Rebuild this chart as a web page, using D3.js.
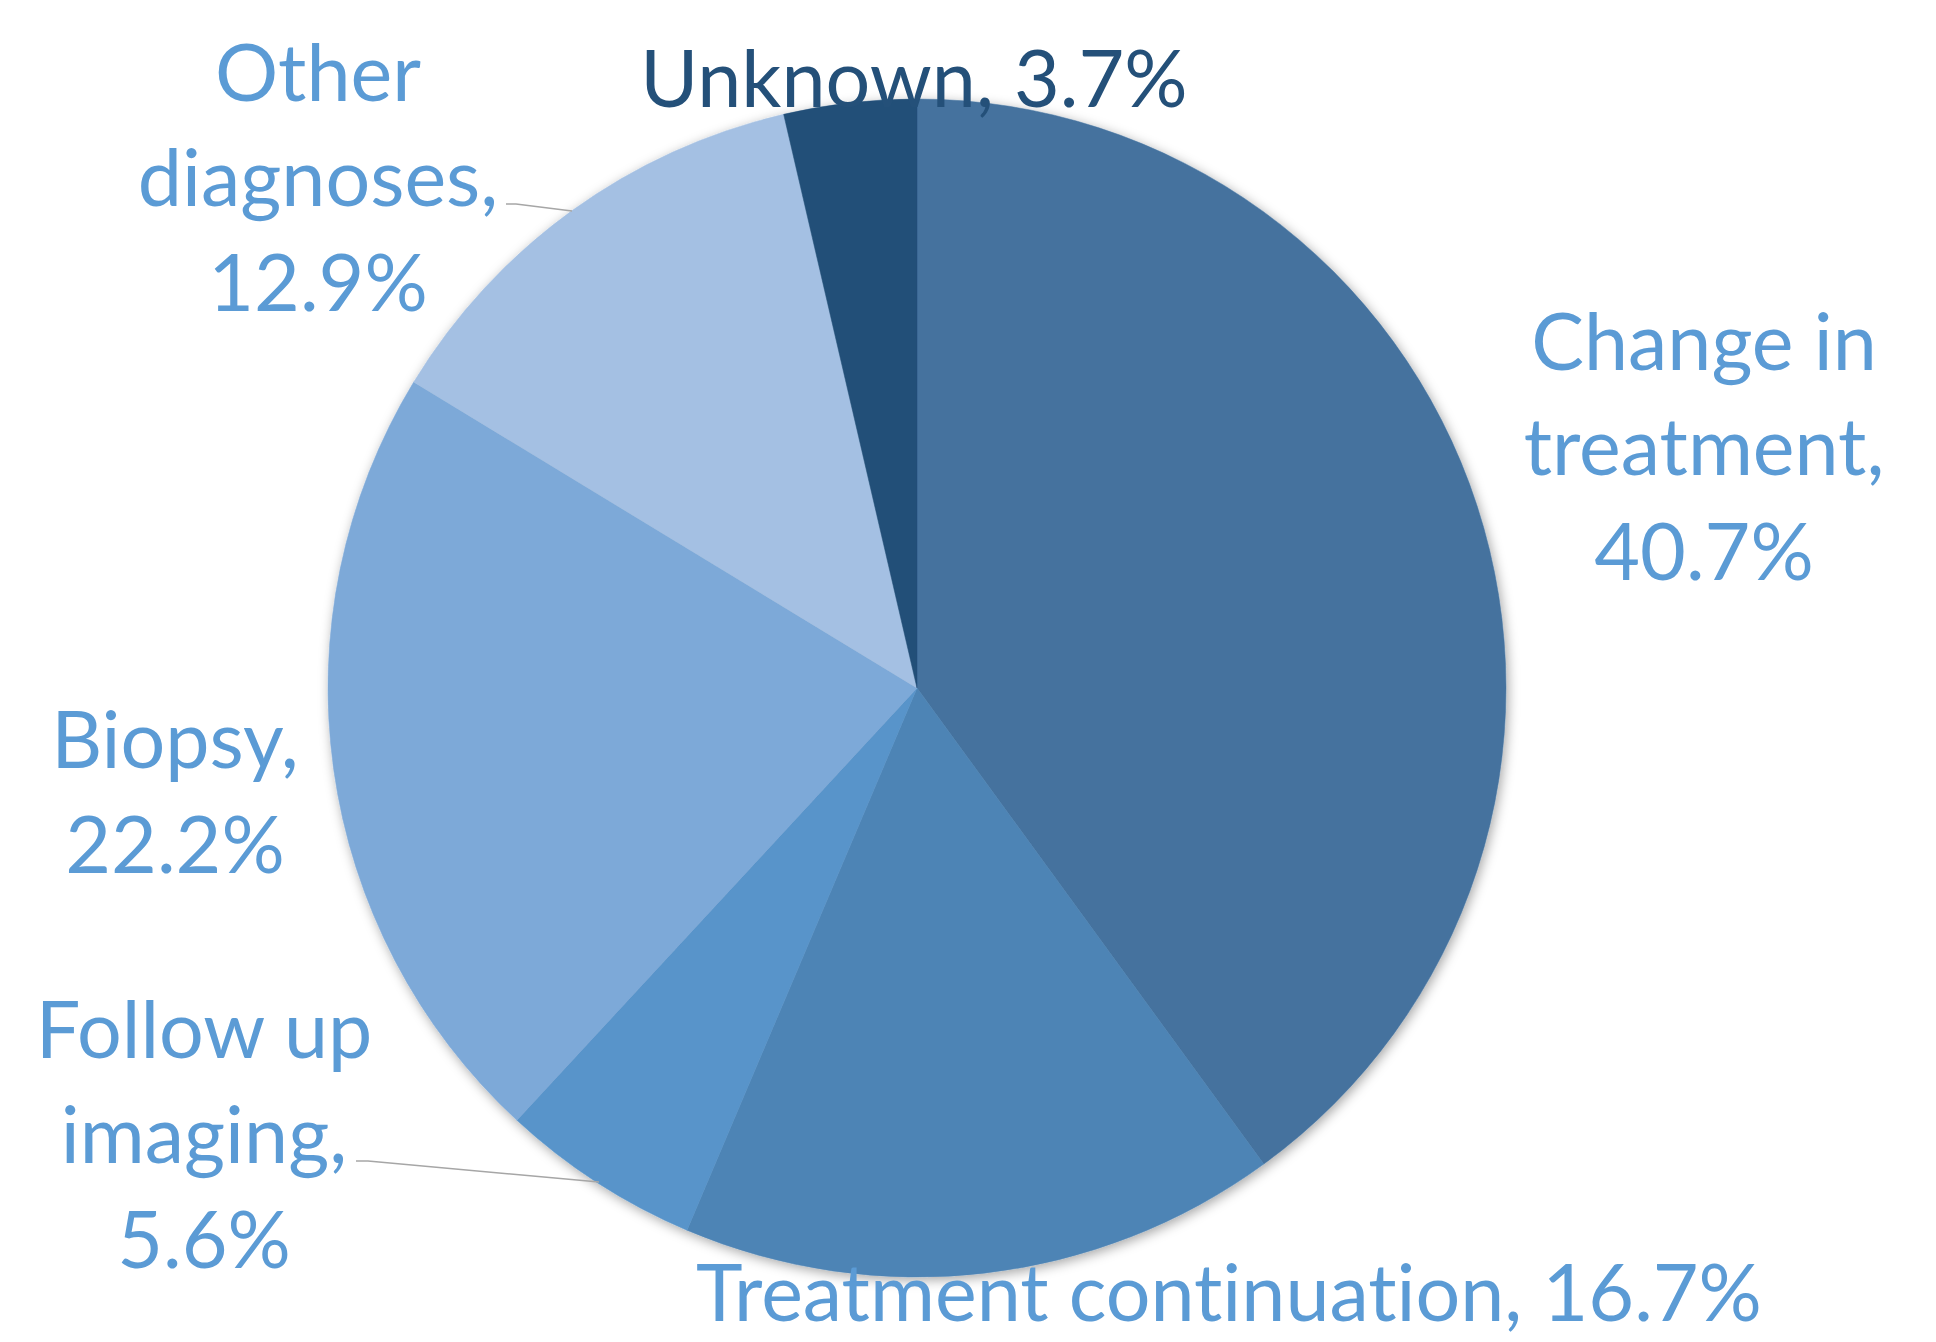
<!DOCTYPE html>
<html>
<head>
<meta charset="utf-8">
<script src="https://cdn.jsdelivr.net/npm/d3@7"></script>
<style>
  html, body { margin: 0; padding: 0; background: #ffffff; }
  svg { display: block; }
  text { font-variant-ligatures: none; font-feature-settings: "liga" 0, "dlig" 0; }
</style>
</head>
<body>
<svg id="chart" width="1936" height="1342"></svg>
<script>
// ---- data ----
const categories = ["Change in treatment", "Treatment continuation", "Follow up imaging", "Biopsy", "Other diagnoses", "Unknown"];
const values = [40.7, 16.7, 5.6, 22.2, 12.9, 3.7];
const labelLines = [
  ["Change in", "treatment,", "40.7%"],
  ["Treatment continuation, 16.7%"],
  ["Follow up", "imaging,", "5.6%"],
  ["Biopsy,", "22.2%"],
  ["Other", "diagnoses,", "12.9%"],
  ["Unknown, 3.7%"]
];
const sliceColors = ["#44729E", "#4E84B5", "#5894CA", "#7DA9D8", "#A4C0E3", "#214F78"];

// ---- layout ----
const W = 1936, H = 1342;
const cx = 917, cy = 688, R = 589;
const fontSize = 79;
const lineGap = 105;
const labelColor = "#5B9BD5";
const unknownLabelColor = "#245079";
// label anchor (center x, first baseline y) per category
const labelLayout = [
  {x: 1704, y: 370},
  {x: 1229, y: 1321},
  {x: 204, y: 1058},
  {x: 175, y: 768},
  {x: 318, y: 101},
  {x: 914, y: 107}
];
// leader lines (label end -> slice edge)
const leaders = {
  2: [[356, 1161], [368, 1161], [599, 1182]],
  4: [[506, 204], [516, 204], [572, 211]]
};

const svg = d3.select("#chart");
const defs = svg.append("defs");
const f = defs.append("filter").attr("id", "shadow")
  .attr("x", "-10%").attr("y", "-10%").attr("width", "120%").attr("height", "120%");
f.append("feDropShadow").attr("dx", 2).attr("dy", 3).attr("stdDeviation", 6)
  .attr("flood-color", "#000").attr("flood-opacity", 0.35);

const data = categories.map((c, i) => ({cat: c, value: values[i], i}));
const pie = d3.pie().value(d => d.value).sort(null);
const arc = d3.arc().innerRadius(0).outerRadius(R);
const color = d3.scaleOrdinal().domain(categories).range(sliceColors);

const g = svg.append("g").attr("transform", `translate(${cx},${cy})`);
const slices = g.append("g").attr("filter", "url(#shadow)");
slices.selectAll("path")
  .data(pie(data))
  .join("path")
  .attr("d", arc)
  .attr("fill", d => color(d.data.cat))
  .attr("stroke", d => color(d.data.cat))
  .attr("stroke-width", 0.5);

// leader lines
Object.entries(leaders).forEach(([k, pts]) => {
  svg.append("path")
    .attr("d", d3.line()(pts))
    .attr("fill", "none")
    .attr("stroke", "#A6A6A6")
    .attr("stroke-width", 1.5);
});

// labels
const labels = svg.append("g")
  .attr("font-family", "Lato, 'Open Sans', sans-serif")
  .attr("font-size", fontSize)
  .attr("text-anchor", "middle");

data.forEach((d, i) => {
  const t = labels.append("text")
    .attr("fill", i === 5 ? unknownLabelColor : labelColor);
  labelLines[i].forEach((ln, j) => {
    t.append("tspan")
      .attr("x", labelLayout[i].x)
      .attr("y", labelLayout[i].y + j * lineGap)
      .text(ln);
  });
});
</script>
</body>
</html>
